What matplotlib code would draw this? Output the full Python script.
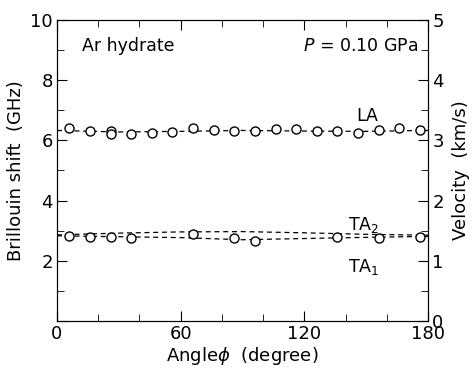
import matplotlib
matplotlib.use("Agg")
import matplotlib.pyplot as plt
from matplotlib.ticker import MultipleLocator, FuncFormatter

plt.rcParams['font.family'] = 'DejaVu Sans'
plt.rcParams['mathtext.fontset'] = 'dejavusans'

# measured points
la_angle = [6, 16, 26, 26, 36, 46, 56, 66, 76, 86, 96, 106, 116, 126, 136, 146, 156, 166, 176]
la_freq = [6.42, 6.32, 6.32, 6.22, 6.21, 6.23, 6.28, 6.40, 6.35, 6.31,
           6.31, 6.38, 6.38, 6.31, 6.31, 6.26, 6.35, 6.40, 6.35]
ta_angle = [6, 16, 26, 36, 66, 86, 96, 136, 156, 176]
ta_freq = [2.82, 2.78, 2.80, 2.75, 2.88, 2.75, 2.66, 2.80, 2.75, 2.78]

# fitted curves (dashed)
fit_angle = [0, 30, 60, 90, 120, 150, 180]
la_fit = [6.33, 6.28, 6.30, 6.33, 6.31, 6.30, 6.33]
ta2_fit = [2.86, 2.92, 2.96, 2.97, 2.93, 2.88, 2.85]
ta1_fit = [2.83, 2.80, 2.77, 2.70, 2.74, 2.78, 2.81]

fig = plt.figure(figsize=(4.73, 3.70), dpi=100)
ax = fig.add_axes([0.1205, 0.1324, 0.7845, 0.8136])

ax.plot(fit_angle, la_fit, 'k--', lw=0.9, dashes=(4, 3))
ax.plot(fit_angle, ta2_fit, 'k--', lw=0.9, dashes=(4, 3))
ax.plot(fit_angle, ta1_fit, 'k--', lw=0.9, dashes=(4, 3))
ax.plot(la_angle, la_freq, 'o', ms=6.5, mfc='white', mec='black', mew=1.0)
ax.plot(ta_angle, ta_freq, 'o', ms=6.5, mfc='white', mec='black', mew=1.0)

ax.set_xlim(0, 180)
ax.set_ylim(0, 10)
ax.xaxis.set_major_locator(MultipleLocator(60))
ax.xaxis.set_minor_locator(MultipleLocator(20))
ax.yaxis.set_major_locator(MultipleLocator(2))
ax.yaxis.set_minor_locator(MultipleLocator(1))
ax.yaxis.set_major_formatter(FuncFormatter(lambda v, p: "" if v == 0 else f"{v:g}"))
ax.tick_params(which='both', direction='in', top=True, labelsize=13, pad=3)
ax.tick_params(which='major', length=7)
ax.tick_params(which='minor', length=5)
ax.set_xlabel(r"Angle$\phi$  (degree)", fontsize=13, labelpad=1)
ax.set_ylabel("Brillouin shift  (GHz)", fontsize=13, labelpad=4)

ax2 = ax.twinx()
ax2.set_ylim(0, 5)
ax2.yaxis.set_major_locator(MultipleLocator(1))
ax2.yaxis.set_minor_locator(MultipleLocator(0.5))
ax2.tick_params(which='both', direction='in', labelsize=13, pad=3)
ax2.tick_params(which='major', length=7)
ax2.tick_params(which='minor', length=5)
ax2.set_ylabel("Velocity  (km/s)", fontsize=13, labelpad=6)

ax.text(12, 9.15, "Ar hydrate", fontsize=12.5, va='center')
ax.text(175, 9.15, r"$P$ = 0.10 GPa", fontsize=12.5, va='center', ha='right')
ax.text(145, 6.8, "LA", fontsize=12.5, va='center')
ax.text(141, 3.18, r"TA$_2$", fontsize=12.5, va='center')
ax.text(141, 1.8, r"TA$_1$", fontsize=12.5, va='center')

fig.savefig("out.png", dpi=100)
